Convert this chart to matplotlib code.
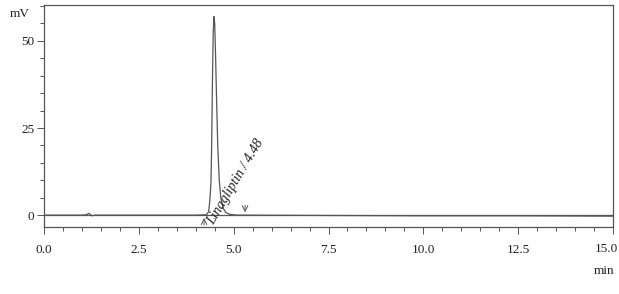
import numpy as np
import matplotlib.pyplot as plt
from matplotlib.ticker import MultipleLocator

# Chromatogram points (min, mV)
time = [0.0, 1.0, 1.12, 1.18, 1.22, 1.27, 1.35, 2.5, 4.0, 4.28, 4.34, 4.37,
        4.40, 4.42, 4.44, 4.46, 4.48, 4.50, 4.52, 4.55, 4.58, 4.62, 4.66,
        4.72, 4.80, 4.90, 5.1, 7.5, 10.0, 12.5, 15.0]
signal = [0.0, 0.0, 0.1, 0.5, 0.2, -0.2, 0.0, 0.0, 0.0, 0.1, 1.0, 4.0,
          9.0, 20.0, 38.0, 52.0, 57.0, 55.0, 47.0, 33.0, 20.0, 10.0, 5.0,
          2.0, 0.7, 0.2, 0.0, -0.1, -0.2, -0.2, -0.3]

peak_name = "Linagliptin / 4.48"
peak_rt = 4.48
start_mark = 4.22
end_mark = 5.3

xticks = [0.0, 2.5, 5.0, 7.5, 10.0, 12.5, 15.0]
yticks = [0, 25, 50]

plt.rcParams['font.family'] = ['Liberation Serif', 'DejaVu Serif']
line_col = "#555555"

fig = plt.figure(figsize=(6.19, 2.94), dpi=100)
ax = fig.add_axes([0.0711, 0.228, 0.9192, 0.755])

ax.plot(time, signal, color=line_col, lw=0.9)
ax.axhline(0, color=line_col, lw=0.9, zorder=0)

# integration markers
ax.annotate("", xy=(start_mark, 0), xytext=(start_mark, -3.6),
            arrowprops=dict(arrowstyle="->", color=line_col, lw=0.7))
ax.annotate("", xy=(end_mark, 0), xytext=(end_mark, 3.6),
            arrowprops=dict(arrowstyle="->", color=line_col, lw=0.7))

ax.text(4.55, -3.5, peak_name, rotation=59, rotation_mode="anchor",
        ha="left", va="bottom", fontsize=10, style="italic", color="#222222")

ax.set_xlim(0, 15)
ax.set_ylim(-3.4, 60.3)
ax.set_xticks(xticks)
# last label is drawn separately so it stays inside the figure
labels = [f"{t:.1f}" for t in xticks]
ax.set_xticklabels(labels[:-1] + [""])
ax.set_yticks(yticks)
ax.xaxis.set_minor_locator(MultipleLocator(0.5))
ax.yaxis.set_minor_locator(MultipleLocator(5))
ax.set_ylim(-3.4, 60.3)

for s in ax.spines.values():
    s.set_color(line_col)
    s.set_linewidth(0.9)

ax.tick_params(axis="both", which="major", length=5, width=0.7,
               colors=line_col, labelcolor="#222222", labelsize=9.5)
ax.tick_params(axis="both", which="minor", length=3, width=0.7,
               colors=line_col)
ax.tick_params(axis="x", pad=7)
ax.tick_params(axis="y", pad=2)

fig.text(618 / 619, 1 - 249 / 294, labels[-1], fontsize=9.5, ha="right",
         va="center", color="#222222")
fig.text(10 / 619, 1 - 14 / 294, "mV", fontsize=9.5, ha="left", va="center",
         color="#222222")
fig.text(604 / 619, 1 - 271 / 294, "min", fontsize=9.5, ha="center",
         va="center", color="#222222")

fig.savefig("out.png", dpi=100)
